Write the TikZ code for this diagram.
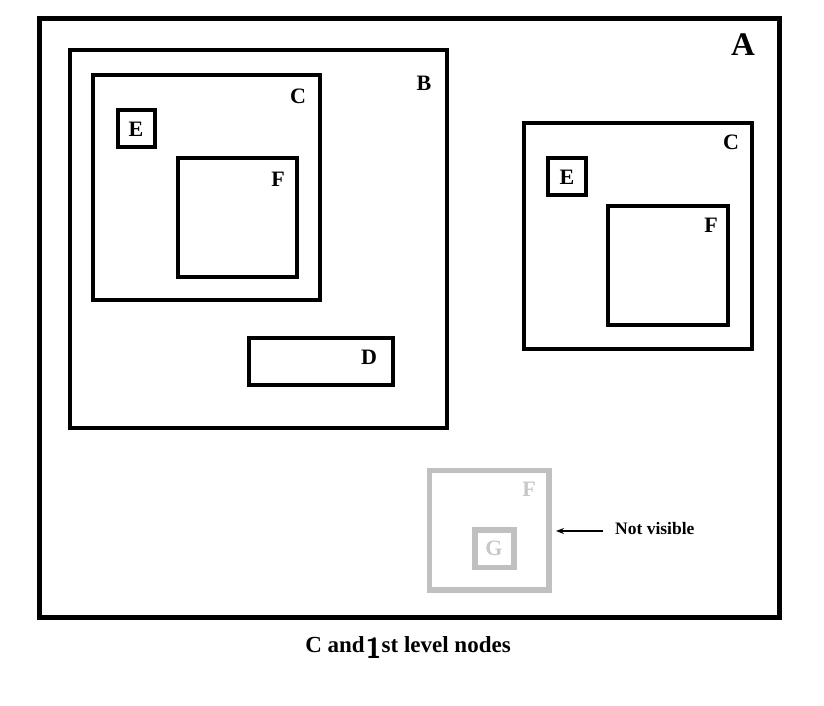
\documentclass[tikz,border=0pt]{standalone}
\usepackage{fontspec}
\setmainfont{Liberation Serif}
\usetikzlibrary{arrows.meta}
\definecolor{lightgrey}{HTML}{C0C0C0}
\definecolor{greytext}{HTML}{C8C8C8}
\begin{document}
\begin{tikzpicture}[x=1pt,y=-1pt,
  box/.style={draw=black,line width=4.5pt},
  greybox/.style={draw=lightgrey,line width=5.5pt},
  lab/.style={font=\fontsize{22}{22}\selectfont\bfseries,inner sep=0pt},
  glab/.style={lab,text=greytext},
  note/.style={font=\fontsize{17.5}{17.5}\selectfont\bfseries,inner sep=0pt}]
\useasboundingbox (0,0) rectangle (824,706);
\fill[white] (0,0) rectangle (824,706);
% boxes
\draw[box,line width=5pt] (39.5,18.5) rectangle (779.5,617.5);
\draw[box] (70,50) rectangle (447,428);
\draw[box] (93,75) rectangle (320,300);
\draw[box] (118,110) rectangle (155,147);
\draw[box] (178,158) rectangle (297,277);
\draw[box] (249,338) rectangle (393,385);
\draw[box] (524,123) rectangle (752,349);
\draw[box] (548,158) rectangle (586,195);
\draw[box] (608,206) rectangle (728,325);
\draw[greybox] (429.5,470.5) rectangle (549,590);
\draw[greybox] (475,530) rectangle (514,567.5);
% labels
\node[lab,font=\fontsize{33}{33}\selectfont\bfseries] (lA) at (743,45) {A};
\node[lab] (lB) at (424,83) {B};
\node[lab] (lC1) at (298,96) {C};
\node[lab] (lE1) at (136,129) {E};
\node[lab] (lF1) at (278,179) {F};
\node[lab] (lD) at (369,357) {D};
\node[lab] (lC2) at (731,142) {C};
\node[lab] (lE2) at (567,177) {E};
\node[lab] (lF2) at (711,225) {F};
\node[glab] (lF3) at (529,489) {F};
\node[glab] (lG) at (494,548) {G};
\node[note,anchor=west] (nv) at (615,529) {Not visible};
\coordinate (tail) at (603,531);
\coordinate (tip) at (556,531);
\draw[line width=1.4pt,-{Stealth[length=8pt,width=6pt]}] (tail) -- (tip);
\node[inner sep=0pt,font=\fontsize{23}{23}\selectfont\bfseries] (cap) at (408,648)
  {C and\hspace{1pt}\raisebox{-6pt}{\fontsize{29}{29}\selectfont\sffamily 1}st level nodes};
\end{tikzpicture}
\end{document}
